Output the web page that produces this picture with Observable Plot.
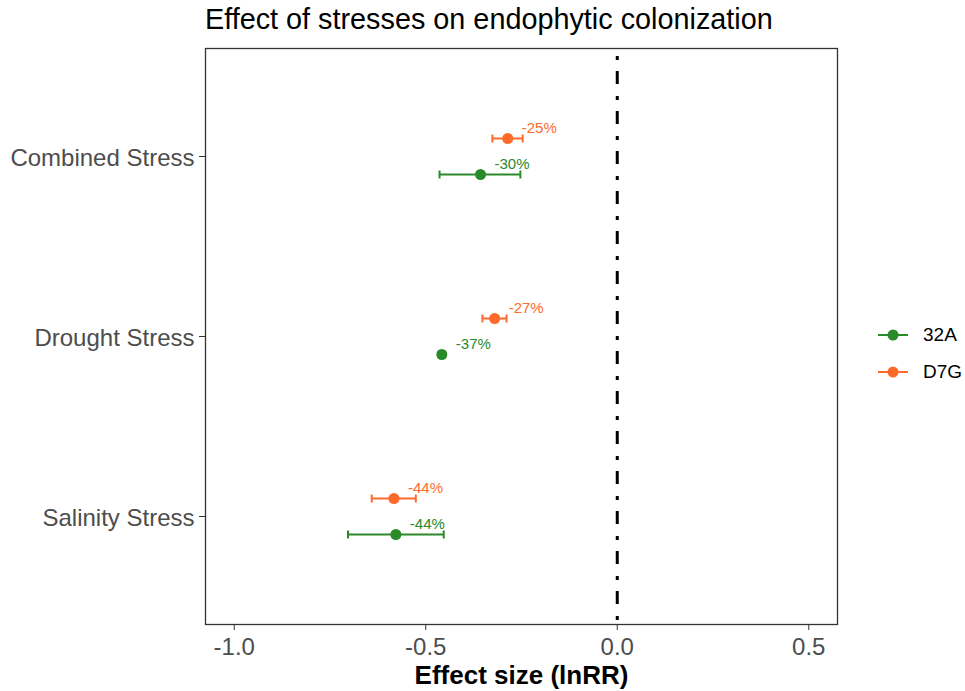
<!DOCTYPE html>
<html>
<head>
<meta charset="utf-8">
<script src="https://cdn.jsdelivr.net/npm/d3@7"></script>
<script src="https://cdn.jsdelivr.net/npm/@observablehq/plot@0.6"></script>
<style>
  body { margin: 0; background: #fff; font-family: "Liberation Sans", Arial, sans-serif; }
  #wrap { position: relative; width: 965px; height: 691px; }
  #title { position: absolute; left: 205px; top: 2px; font-size: 28.8px; line-height: 34px; color: #000; white-space: nowrap; }
  #chart { position: absolute; left: 0; top: 40px; }
  #legend { position: absolute; left: 875px; top: 316px; font-size: 19px; color: #000; }
  .item { display: flex; align-items: center; height: 37px; }
  .item svg { margin-right: 12px; }
</style>
</head>
<body>
<div id="wrap">
  <div id="title">Effect of stresses on endophytic colonization</div>
  <div id="chart"></div>
  <div id="legend"></div>
</div>
<script>
// Stress treatments (top to bottom) and the two endophyte strains
const stresses = ["Combined Stress", "Drought Stress", "Salinity Stress"];
const strains = ["32A", "D7G"];
const colors = ["#2a8a2a", "#ff6a2b"];

// Effect sizes (lnRR) with lower/upper confidence limits, one value per stress
const effect32A = [-0.357, -0.458, -0.578];
const lower32A  = [-0.464, -0.466, -0.703];
const upper32A  = [-0.253, -0.450, -0.453];
const effectD7G = [-0.286, -0.320, -0.583];
const lowerD7G  = [-0.326, -0.352, -0.641];
const upperD7G  = [-0.247, -0.289, -0.526];

const xTicks = [-1.0, -0.5, 0.0, 0.5];

// percent change implied by the log response ratio
const pct = v => Math.round((Math.exp(v) - 1) * 100) + "%";

// short vertical cap drawn at each end of an interval
const cap = {draw(context) { context.moveTo(0, -4); context.lineTo(0, 4); }};

const series = [
  {strain: "32A", effect: effect32A, lower: lower32A, upper: upper32A, offset: 18},
  {strain: "D7G", effect: effectD7G, lower: lowerD7G, upper: upperD7G, offset: -18}
];

const marks = [
  Plot.frame({stroke: "#333", strokeWidth: 1.3}),
  Plot.ruleX([0], {stroke: "#000", strokeWidth: 3, strokeDasharray: "4,11,13,12", strokeDashoffset: -8})
];

series.forEach(s => {
  const color = colors[strains.indexOf(s.strain)];
  const rows = stresses.map((stress, i) => ({
    stress, effect: s.effect[i], lower: s.lower[i], upper: s.upper[i]
  }));
  marks.push(
    Plot.ruleY(rows, {y: "stress", x1: "lower", x2: "upper", dy: s.offset, stroke: color, strokeWidth: 2}),
    Plot.dot(rows, {x: "lower", y: "stress", dy: s.offset, symbol: cap, stroke: color, strokeWidth: 2}),
    Plot.dot(rows, {x: "upper", y: "stress", dy: s.offset, symbol: cap, stroke: color, strokeWidth: 2}),
    Plot.dot(rows, {x: "effect", y: "stress", dy: s.offset, r: 5.5, fill: color, stroke: "none"}),
    Plot.text(rows, {x: "effect", y: "stress", text: d => pct(d.effect), dy: s.offset - 10, dx: 14,
      textAnchor: "start", fill: color, fontSize: 15})
  );
});

marks.push(
  Plot.axisX({ticks: xTicks, tickFormat: d => d.toFixed(1), tickSize: 6, tickPadding: 7,
    fontSize: 24, color: "#4d4d4d", stroke: "#333", label: null}),
  // y tick marks, then the category labels set slightly lower
  Plot.axisY({tickSize: 6, tickFormat: () => "", stroke: "#333", label: null}),
  Plot.axisY({tickSize: 0, tickPadding: 11, dy: 2, fontSize: 24, fill: "#4d4d4d", label: null}),
  Plot.text(["Effect size (lnRR)"], {text: d => d, frameAnchor: "bottom", dy: 51, lineAnchor: "middle",
    fontSize: 26, fontWeight: "bold", fill: "#000"})
);

const chart = Plot.plot({
  width: 965,
  height: 651,
  marginTop: 8,
  marginBottom: 67,
  marginLeft: 205,
  marginRight: 128,
  style: {fontFamily: "'Liberation Sans', Arial, sans-serif", background: "#fff", overflow: "visible"},
  x: {domain: [-1.075, 0.575]},
  y: {type: "point", domain: stresses, padding: 0.6},
  marks
});
document.getElementById("chart").append(chart);

// legend: line-and-dot key for each strain
const legend = document.getElementById("legend");
strains.forEach((s, i) => {
  const item = document.createElement("div");
  item.className = "item";
  item.innerHTML = `<svg width="36" height="14"><line x1="3" x2="33" y1="7" y2="7" stroke="${colors[i]}" stroke-width="2"/>` +
    `<circle cx="18" cy="7" r="5.5" fill="${colors[i]}"/></svg><span>${s}</span>`;
  legend.append(item);
});
</script>
</body>
</html>
